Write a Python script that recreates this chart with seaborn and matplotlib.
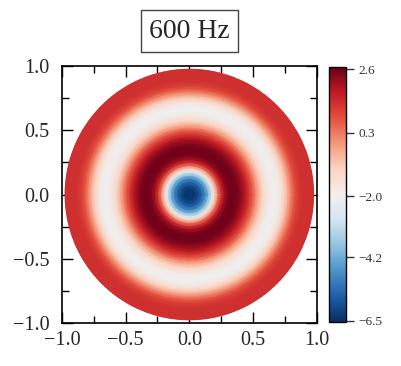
import matplotlib

matplotlib.use("Agg")

import matplotlib.pyplot as plt
import matplotlib.tri as mtri
import numpy as np
import seaborn as sns
from matplotlib.colors import LinearSegmentedColormap
from matplotlib.ticker import MultipleLocator

# radial profile (value vs. radius)
radius = [0.000, 0.025, 0.050, 0.075, 0.100, 0.125, 0.150, 0.175, 0.200, 0.225,
          0.250, 0.275, 0.300, 0.325, 0.350, 0.375, 0.400, 0.425, 0.450, 0.475,
          0.500, 0.525, 0.550, 0.575, 0.600, 0.625, 0.650, 0.675, 0.700, 0.725,
          0.750, 0.775, 0.800, 0.825, 0.850, 0.875, 0.900, 0.925, 0.950, 0.975]
level = [-6.5, -6.4, -6.2, -5.9, -5.4, -4.8, -3.9, -2.6, -1.0, 0.4,
         1.4, 2.1, 2.4, 2.6, 2.6, 2.5, 2.3, 2.0, 1.6, 1.1,
         0.6, 0.0, -0.6, -1.1, -1.5, -1.8, -2.0, -2.0, -1.8, -1.4,
         -0.9, -0.3, 0.3, 0.8, 1.1, 1.3, 1.4, 1.4, 1.4, 1.4]

cbar_ticks = [2.6, 0.3, -2.0, -4.2, -6.5]
axis_ticks = [-1.0, -0.5, 0.0, 0.5, 1.0]
title = "600 Hz"

# RdBu_r-like colours picked from the reference colour bar
cmap_colors = ["#053061", "#1f5fa8", "#4a93c8", "#93c4e0", "#d4e6f1",
               "#f2efee", "#fbd5c4", "#f59a7c", "#e4503f", "#c11b25", "#6a0019"]

sns.set_theme(style="ticks")
plt.rcParams["font.family"] = ["Liberation Serif", "DejaVu Serif"]

# polar mesh, one ring of points per profile sample, explicit triangles
n = 360
theta = np.linspace(0, 2 * np.pi, n, endpoint=False)
xs, ys, vs = [0.0], [0.0], [level[0]]
for r, v in zip(radius[1:], level[1:]):
    xs.extend(r * np.cos(theta))
    ys.extend(r * np.sin(theta))
    vs.extend([v] * n)

triangles = []
for j in range(n):
    triangles.append([0, 1 + j, 1 + (j + 1) % n])
for i in range(len(radius) - 2):
    a0 = 1 + i * n
    b0 = 1 + (i + 1) * n
    for j in range(n):
        jn = (j + 1) % n
        triangles.append([a0 + j, b0 + j, b0 + jn])
        triangles.append([a0 + j, b0 + jn, a0 + jn])
tri = mtri.Triangulation(np.array(xs), np.array(ys), np.array(triangles))

fig = plt.figure(figsize=(4.02, 3.66), dpi=100)
ax = fig.add_axes([0.154, 0.1175, 0.634, 0.702])
cax = fig.add_axes([0.818, 0.12, 0.043, 0.697])

cmap = LinearSegmentedColormap.from_list("rdbu_ref", cmap_colors)
sns.set_palette(sns.color_palette(cmap_colors))
mesh = ax.tripcolor(tri, np.array(vs), shading="gouraud", cmap=cmap,
                    vmin=-6.55, vmax=2.68)

ax.set_xlim(-1, 1)
ax.set_ylim(-1, 1)
ax.set_xticks(axis_ticks)
ax.set_yticks(axis_ticks)
ax.set_xticklabels([f"{t:.1f}".replace("-", "\u2212") for t in axis_ticks])
ax.set_yticklabels([f"{t:.1f}".replace("-", "\u2212") for t in axis_ticks])
ax.xaxis.set_minor_locator(MultipleLocator(0.25))
ax.yaxis.set_minor_locator(MultipleLocator(0.25))
ax.tick_params(which="both", direction="in", top=True, right=True,
               width=1.0, color="black", labelsize=14.5)
ax.tick_params(which="major", length=8)
ax.tick_params(which="minor", length=5)
ax.tick_params(axis="x", pad=6)
ax.tick_params(axis="y", pad=9)
for s in ax.spines.values():
    s.set_linewidth(1.2)
    s.set_color("black")

cb = fig.colorbar(mesh, cax=cax)
cb.set_ticks(cbar_ticks)
cb.set_ticklabels([f"{t:.1f}".replace("-", "\u2212") for t in cbar_ticks])
cb.ax.tick_params(direction="out", length=6, width=1.0, labelsize=9.5,
                  color="#333333", labelcolor="#333333", pad=3)
cb.outline.set_linewidth(1.0)
cb.outline.set_edgecolor("black")

fig.text(0.471, 0.915, title, ha="center", va="center", fontsize=20,
         bbox=dict(boxstyle="square,pad=0.3", facecolor="white",
                   edgecolor="#444444", linewidth=1.0))

fig.savefig("out.png", dpi=100, facecolor="white")
